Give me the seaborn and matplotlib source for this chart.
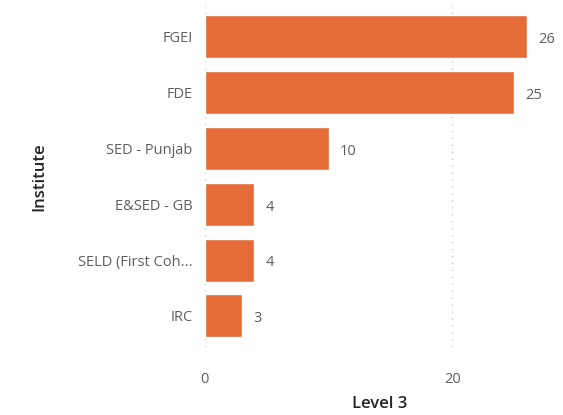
import matplotlib
matplotlib.use("Agg")
import matplotlib.pyplot as plt
import pandas as pd
import seaborn as sns

# ---- Data ----
institutes = ["FGEI", "FDE", "SED - Punjab", "E&SED - GB", "SELD (First Coh...", "IRC"]
level3 = [26, 25, 10, 4, 4, 3]

BAR_COLOR = "#E66C37"
TEXT_COLOR = "#605E5C"
TITLE_COLOR = "#252423"

df = pd.DataFrame({"Institute": institutes, "Level 3": level3})

sns.set_theme(style="white")
plt.rcParams["font.family"] = ["Open Sans", "DejaVu Sans"]

fig = plt.figure(figsize=(5.63, 4.15), dpi=100)
ax = fig.add_axes([0.364, 0.165, 0.622, 0.82])

sns.barplot(data=df, x="Level 3", y="Institute", color=BAR_COLOR,
            saturation=1, width=0.77, ax=ax, orient="h")

for p, v in zip(ax.patches, level3):
    ax.text(p.get_width() + 0.9, p.get_y() + p.get_height() / 2 + 0.05, str(v),
            va="center", ha="left", fontsize=10.5, color=TEXT_COLOR)

ax.set_xlim(0, 28.3)
ax.set_ylim(5.55, -0.55)
ax.set_xticks([0, 20])
ax.xaxis.grid(True, linestyle=(0, (1, 4)), color="#C8C6C4", linewidth=1)
ax.set_axisbelow(True)
for s in ax.spines.values():
    s.set_visible(False)

ax.tick_params(axis="x", length=0, pad=18, labelsize=10.5, labelcolor=TEXT_COLOR)
ax.tick_params(axis="y", length=0, pad=9, labelsize=10.5, labelcolor=TEXT_COLOR)

ax.set_xlabel("Level 3", fontsize=12, color=TITLE_COLOR, fontweight="semibold", labelpad=7)
ax.set_ylabel("Institute", fontsize=12, color=TITLE_COLOR, fontweight="semibold", labelpad=22)

fig.savefig("out.png", dpi=100)
